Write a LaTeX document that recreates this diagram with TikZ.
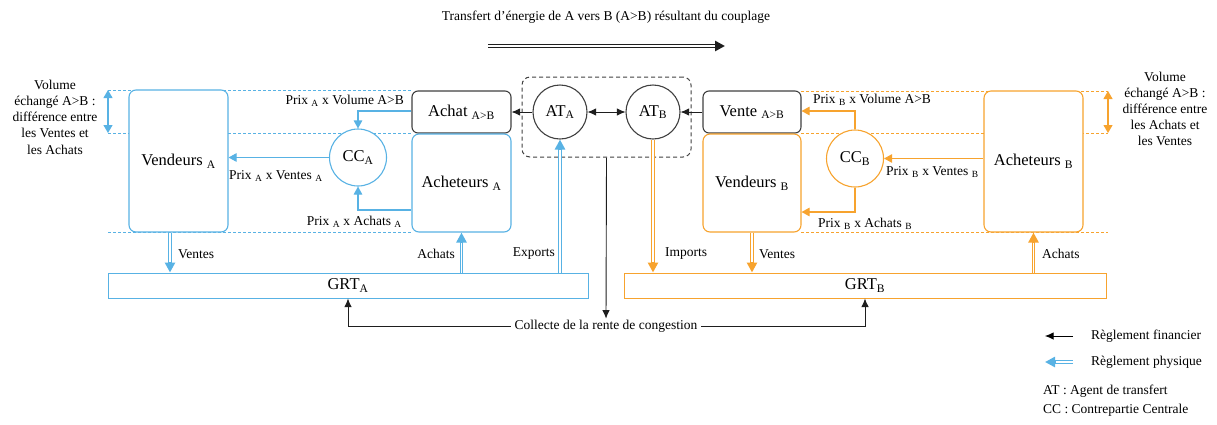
\documentclass[tikz,border=0pt]{standalone}
\usepackage{fontspec}
\setmainfont{Liberation Serif}
\usetikzlibrary{arrows.meta}
\definecolor{cblue}{RGB}{88,178,228}
\definecolor{corange}{RGB}{247,163,46}
\definecolor{cgray}{RGB}{64,64,64}
\definecolor{cblack}{RGB}{30,30,30}
\tikzset{
 bigtxt/.style={font=\fontsize{16.5}{19}\selectfont},
 smalltxt/.style={font=\fontsize{13.5}{16}\selectfont},
 boxA/.style={draw=cblue, line width=1.1pt, rounded corners=7pt, fill=white, inner sep=0pt, bigtxt},
 boxB/.style={draw=corange, line width=1.1pt, rounded corners=7pt, fill=white, inner sep=0pt, bigtxt},
 boxG/.style={draw=cgray, line width=1.1pt, rounded corners=6pt, fill=white, inner sep=0pt, bigtxt},
 circA/.style={circle, draw=cblue, line width=1.1pt, fill=white, inner sep=0pt, minimum size=57pt, bigtxt},
 circB/.style={circle, draw=corange, line width=1.1pt, fill=white, inner sep=0pt, minimum size=57pt, bigtxt},
 circG/.style={circle, draw=cgray, line width=1.1pt, fill=white, inner sep=0pt, minimum size=54pt, bigtxt},
 grtA/.style={draw=cblue, line width=1pt, fill=white, inner sep=0pt, bigtxt},
 grtB/.style={draw=corange, line width=1pt, fill=white, inner sep=0pt, bigtxt},
 lbl/.style={smalltxt, inner sep=0pt},
 finarr/.style={draw=cblack, line width=0.9pt, -{Latex[length=8.5pt,width=7.5pt]}},
 finboth/.style={draw=cblack, line width=0.9pt, {Latex[length=8.5pt,width=7.5pt]}-{Latex[length=8.5pt,width=7.5pt]}},
 finA/.style={draw=cblue, line width=1.1pt, -{Triangle[length=8pt,width=8.5pt]}},
 finB/.style={draw=corange, line width=1.1pt, -{Triangle[length=8pt,width=8.5pt]}},
 volA/.style={draw=cblue, line width=1.1pt, {Triangle[length=8pt,width=9pt]}-{Triangle[length=8pt,width=9pt]}},
 volB/.style={draw=corange, line width=1.1pt, {Triangle[length=8pt,width=9pt]}-{Triangle[length=8pt,width=9pt]}},
 dashA/.style={draw=cblue, line width=0.9pt, dash pattern=on 3pt off 2pt},
 dashB/.style={draw=corange, line width=0.9pt, dash pattern=on 3pt off 2pt},
 physout/.style={line width=3.2pt, -{Triangle[length=10pt,width=10pt]}},
 physin/.style={draw=white, line width=1.3pt, shorten >=10.5pt},
}
% physical (double-line) arrow: colour, from, to
\newcommand{\physarrow}[3]{%
 \draw[physout, draw=#1, fill=#1] (#2) -- (#3);
 \draw[physin] (#2) -- (#3);}
\begin{document}
\begin{tikzpicture}[x=1pt,y=-1pt]
\useasboundingbox (0,0) rectangle (1217,424);

% dashed guide lines
\draw[dashA] (108,90) -- (412,90);
\draw[dashA] (108,133) -- (412,133);
\draw[dashA] (108,232) -- (412,232);
\draw[dashB] (801,91) -- (1108,91);
\draw[dashB] (801,133) -- (1108,133);
\draw[dashB] (801,232) -- (1108,232);

% title
\node[lbl] (title) at (606,17) {Transfert d’énergie de A vers B (A>B) résultant du couplage};
\coordinate (tr1) at (488,46);
\coordinate (tr2) at (725,46);
\physarrow{cblack}{tr1}{tr2}

% left side
\node[boxA, minimum width=99pt, minimum height=142pt] (vendA) at (178.5,161) {Vendeurs \textsubscript{A}};
\node[boxG, minimum width=99pt, minimum height=42pt] (achA) at (461.5,112) {Achat \textsubscript{A>B}};
\node[boxA, minimum width=99pt, minimum height=98pt] (acheA) at (461.5,183) {Acheteurs \textsubscript{A}};
\node[circA] (ccA) at (358,157.5) {CC\textsubscript{A}};

% center
\node[draw=cgray, line width=1pt, dash pattern=on 4pt off 3pt, rounded corners=8pt, minimum width=169pt, minimum height=80pt, inner sep=0pt] (atbox) at (606.5,117) {};
\node[circG] (atA) at (560,112) {AT\textsubscript{A}};
\node[circG] (atB) at (653,112) {AT\textsubscript{B}};

% right side
\node[boxG, minimum width=98pt, minimum height=42pt] (venteB) at (752,112) {Vente \textsubscript{A>B}};
\node[boxB, minimum width=98pt, minimum height=98pt] (vendB) at (752,183) {Vendeurs \textsubscript{B}};
\node[circB] (ccB) at (855,158.5) {CC\textsubscript{B}};
\node[boxB, minimum width=99pt, minimum height=141pt] (acheB) at (1033.5,161.5) {Acheteurs \textsubscript{B}};

% GRT
\node[grtA, minimum width=480pt, minimum height=25pt] (grtA) at (348,285.5) {GRT\textsubscript{A}};
\node[grtB, minimum width=482pt, minimum height=25pt] (grtB) at (865,285.5) {GRT\textsubscript{B}};
\node[lbl] (collecte) at (606,326) {Collecte de la rente de congestion};

% volume arrows and texts
\coordinate (vA1) at (108,90);
\coordinate (vA2) at (108,133);
\draw[volA] (vA1) -- (vA2);
\coordinate (vB1) at (1108,91);
\coordinate (vB2) at (1108,133);
\draw[volB] (vB1) -- (vB2);
\node[lbl, align=center, font=\fontsize{13.5}{16.2}\selectfont] (volTxtA) at (55,117) {Volume\\échangé A>B :\\différence entre\\les Ventes et\\les Achats};
\node[lbl, align=center, font=\fontsize{13.5}{16.2}\selectfont] (volTxtB) at (1165,109) {Volume\\échangé A>B :\\différence entre\\les Achats et\\les Ventes};

% financial flows A
\draw[finA] ([yshift=1pt]achA.west) -| (ccA.north);
\draw[finA] (ccA.west) -- (ccA.west -| vendA.east);
\draw[finA] ([yshift=-27pt]acheA.west) -| (ccA.south);
\node[lbl, anchor=east] (pvA) at (404,101) {Prix \textsubscript{A} x Volume A>B};
\node[lbl, anchor=west] (pveA) at (229,176) {Prix \textsubscript{A} x Ventes \textsubscript{A}};
\node[lbl, anchor=east] (paA) at (402,222) {Prix \textsubscript{A} x Achats \textsubscript{A}};

% financial flows B
\draw[finB] (ccB.north) |- ([yshift=1pt]venteB.east);
\draw[finB] (ccB.south) |- ([yshift=-29pt]vendB.east);
\draw[finB] (ccB.east -| acheB.west) -- (ccB.east);
\node[lbl, anchor=west] (pvB) at (813,100) {Prix \textsubscript{B} x Volume A>B};
\node[lbl, anchor=west] (paB) at (818,224) {Prix \textsubscript{B} x Achats \textsubscript{B}};
\node[lbl, anchor=west] (pveB) at (886,172) {Prix \textsubscript{B} x Ventes \textsubscript{B}};

% AT arrows
\draw[finarr] (atA.west) -- (achA.east);
\draw[finboth] (atA.east) -- (atB.west);
\draw[finarr] (venteB.west) -- (atB.east);

% congestion rent
\draw[finarr] (atbox.south) -- ([yshift=1pt]collecte.north);
\draw[finarr] ([xshift=-4pt]collecte.west) -| (grtA.south);
\draw[finarr] ([xshift=4pt]collecte.east) -| (grtB.south);

% physical flows A
\physarrow{cblue}{[xshift=-8.5pt]vendA.south}{[xshift=-8.5pt]vendA.south |- grtA.north}
\physarrow{cblue}{grtA.north -| acheA.south}{acheA.south}
\physarrow{cblue}{grtA.north -| atA.south}{atA.south}
\node[lbl, anchor=west] (lvA) at (178,254) {Ventes};
\node[lbl, anchor=east] (laA) at (455,254) {Achats};
\node[lbl, anchor=east] (lex) at (555,254) {Exports};

% physical flows B
\physarrow{corange}{atB.south}{atB.south |- grtB.north}
\physarrow{corange}{vendB.south}{vendB.south |- grtB.north}
\physarrow{corange}{grtB.north -| acheB.south}{acheB.south}
\node[lbl, anchor=west] (lim) at (665,254) {Imports};
\node[lbl, anchor=west] (lvB) at (759,254) {Ventes};
\node[lbl, anchor=west] (laB) at (1042,254) {Achats};

% legend
\coordinate (lg1a) at (1073,336);
\coordinate (lg1b) at (1045,336);
\draw[finarr, draw=black] (lg1a) -- (lg1b);
\coordinate (lg2a) at (1073,362);
\coordinate (lg2b) at (1045,362);
\physarrow{cblue}{lg2a}{lg2b}
\node[lbl, anchor=west] (lgt1) at (1091,336) {Règlement financier};
\node[lbl, anchor=west] (lgt2) at (1091,362) {Règlement physique};
\node[lbl, anchor=west] (lgt3) at (1043,391) {AT : Agent de transfert};
\node[lbl, anchor=west] (lgt4) at (1043,410) {CC : Contrepartie Centrale};
\end{tikzpicture}
\end{document}
